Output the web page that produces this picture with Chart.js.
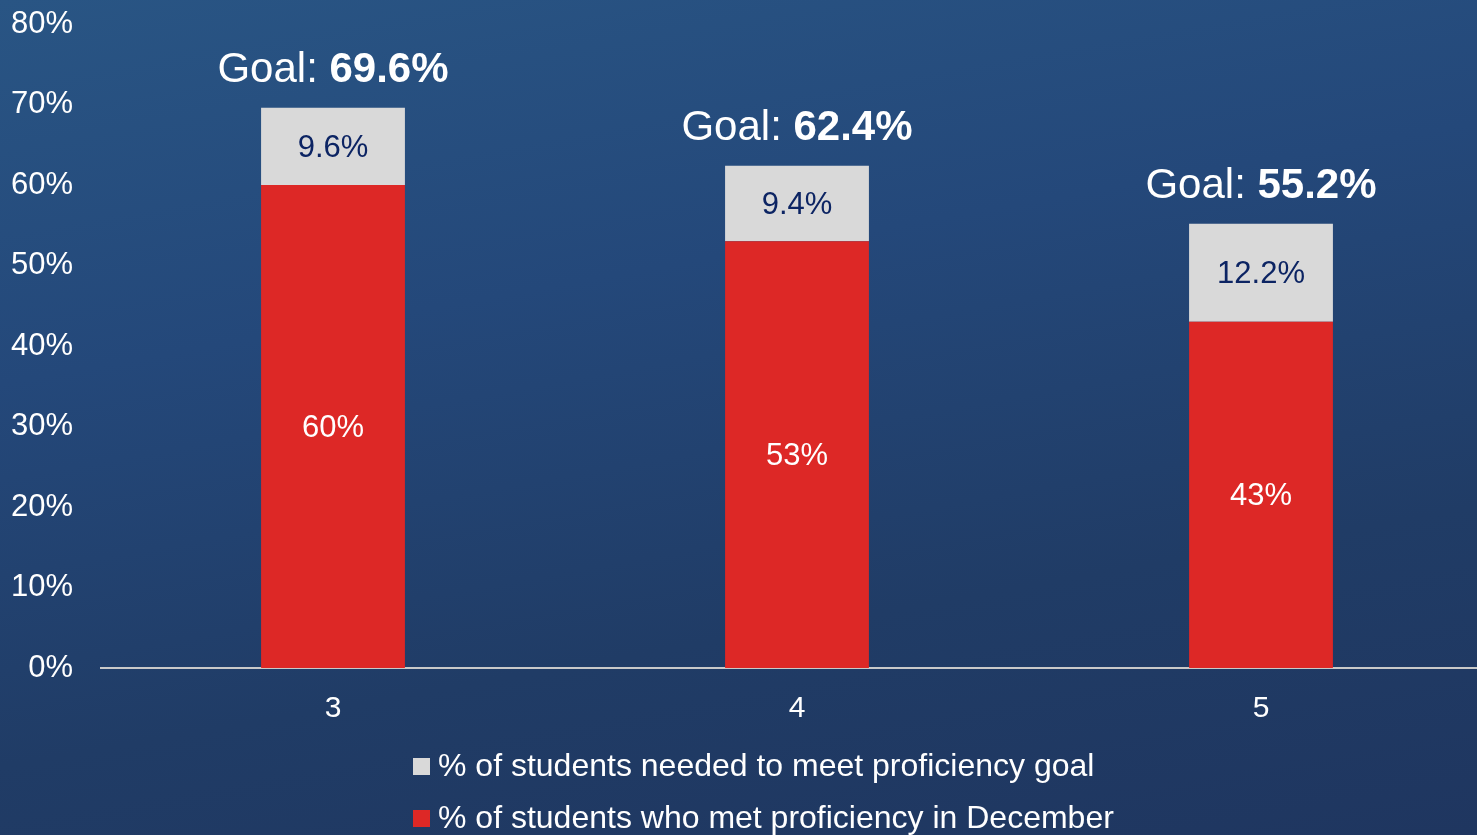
<!DOCTYPE html>
<html>
<head>
<meta charset="utf-8">
<script src="https://cdn.jsdelivr.net/npm/chart.js@4.4.1/dist/chart.umd.min.js"></script>
<style>
  html, body {
    margin: 0;
    padding: 0;
    width: 1477px;
    height: 835px;
    overflow: hidden;
    background: linear-gradient(170deg, #295584 0%, #24487a 35%, #203c66 70%, #1f3660 100%);
    font-family: "Liberation Sans", Arial, sans-serif;
  }
  canvas { display: block; }
</style>
</head>
<body>
<canvas id="goalChart" width="1500" height="835"></canvas>
<script>
// grade levels on the x axis
const grades = ["3", "4", "5"];
// % who met proficiency in December (red, bottom of stack)
const metProficiency = [60, 53, 43];
// % still needed to reach the goal (gray, top of stack)
const neededForGoal = [9.6, 9.4, 12.2];
// goal shown above each bar
const goals = [69.6, 62.4, 55.2];
// y axis tick values
const yTicks = [0, 10, 20, 30, 40, 50, 60, 70, 80];

const legendLabels = [
  "% of students needed to meet proficiency goal",
  "% of students who met proficiency in December",
];

const RED = "#dd2826";
const GRAY = "#d9d9d9";
const FONT = '"Liberation Sans", Arial, sans-serif';

// labels inside each segment + "Goal:" label above each bar
const labelsPlugin = {
  id: "segmentLabels",
  afterDatasetsDraw(chart) {
    const ctx = chart.ctx;
    ctx.save();
    ctx.textAlign = "center";
    ctx.textBaseline = "middle";

    chart.data.datasets.forEach((ds, di) => {
      const meta = chart.getDatasetMeta(di);
      meta.data.forEach((bar, i) => {
        const mid = (bar.y + bar.base) / 2;
        ctx.font = `31px ${FONT}`;
        ctx.fillStyle = di === 0 ? "#ffffff" : "#0c2463";
        ctx.fillText(ds.data[i] + "%", bar.x, mid + 2);
      });
    });

    // goal label
    const topMeta = chart.getDatasetMeta(chart.data.datasets.length - 1);
    topMeta.data.forEach((bar, i) => {
      const a = "Goal: ";
      const b = goals[i].toFixed(1) + "%";
      ctx.font = `42px ${FONT}`;
      const wa = ctx.measureText(a).width;
      ctx.font = `bold 42px ${FONT}`;
      const wb = ctx.measureText(b).width;
      const x0 = bar.x - (wa + wb) / 2;
      const y = bar.y - 37;
      ctx.textAlign = "left";
      ctx.fillStyle = "#ffffff";
      ctx.font = `42px ${FONT}`;
      ctx.fillText(a, x0, y);
      ctx.font = `bold 42px ${FONT}`;
      ctx.fillText(b, x0 + wa, y);
    });
    ctx.restore();
  },
};

// two-row legend under the axis
const legendPlugin = {
  id: "stackedLegend",
  afterDraw(chart) {
    const ctx = chart.ctx;
    const colors = [GRAY, RED];
    const rows = [766, 818];
    ctx.save();
    ctx.textAlign = "left";
    ctx.textBaseline = "middle";
    ctx.font = `32px ${FONT}`;
    legendLabels.forEach((txt, i) => {
      ctx.fillStyle = colors[i];
      ctx.fillRect(413, rows[i] - 8, 17, 17);
      ctx.fillStyle = "#ffffff";
      ctx.fillText(txt, 438, rows[i] + 1);
    });
    ctx.restore();
  },
};

new Chart(document.getElementById("goalChart"), {
  type: "bar",
  data: {
    labels: grades,
    datasets: [
      {
        label: legendLabels[1],
        data: metProficiency,
        backgroundColor: RED,
        barPercentage: 0.31,
        categoryPercentage: 1,
      },
      {
        label: legendLabels[0],
        data: neededForGoal,
        backgroundColor: GRAY,
        barPercentage: 0.31,
        categoryPercentage: 1,
      },
    ],
  },
  options: {
    responsive: false,
    animation: false,
    layout: { padding: { top: 24, right: 7, left: 0, bottom: 0 } },
    plugins: {
      legend: { display: false },
      tooltip: { enabled: false },
    },
    scales: {
      x: {
        stacked: true,
        grid: { display: false },
        border: { display: true, color: "#c9c9c9", width: 2 },
        ticks: {
          color: "#ffffff",
          font: { family: FONT, size: 30 },
          padding: 15,
        },
        afterFit(scale) {
          scale.height = 167;
        },
      },
      y: {
        stacked: true,
        min: 0,
        max: 80,
        afterBuildTicks(scale) {
          scale.ticks = yTicks.map((v) => ({ value: v }));
        },
        grid: { display: false },
        border: { display: false },
        ticks: {
          color: "#ffffff",
          font: { family: FONT, size: 31 },
          padding: 20,
          callback: (v) => v + "%",
        },
        afterFit(scale) {
          scale.width = 101;
          scale.paddingTop = 0;
          scale.paddingBottom = 0;
        },
      },
    },
  },
  plugins: [labelsPlugin, legendPlugin],
});
</script>
</body>
</html>
